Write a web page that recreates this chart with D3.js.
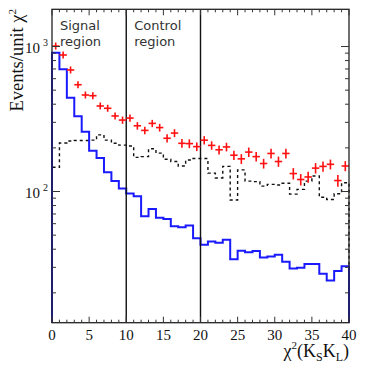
<!DOCTYPE html>
<html>
<head>
<meta charset="utf-8">
<script src="https://cdn.jsdelivr.net/npm/d3@7"></script>
<style>
  body { margin: 0; background: #fff; }
  svg text { font-family: "Liberation Serif", "DejaVu Serif", serif; }
  .region-label { font-family: "DejaVu Sans", "Liberation Sans", sans-serif; font-size: 13px; fill: #333; }
</style>
</head>
<body>
<div id="chart"></div>
<script>
// chi2 bins, width 1, from 0 to 40
var binEdges = d3.range(0, 41);

// Signal MC (blue, solid)
var signalMC = [906, 697, 443, 330, 258, 191, 170, 136, 118, 105,
                97, 92.7, 67.4, 75.7, 65.9, 64.5, 57.6, 56.7, 58.3, 47.6,
                42.9, 45.2, 44.3, 46.5, 34.1, 39.0, 38.1, 38.9, 35.1, 35.6,
                36.6, 32.8, 29.4, 29.8, 31.6, 31.6, 27.1, 24.3, 28.3, 30.5];

// Background (black, dashed)
var background = [147, 216, 223, 225, 225, 226, 246, 226, 215, 209,
                  206, 172, 174, 197, 184, 167, 161, 150, 165, 169,
                  169, 134, 124, 149, 87.4, 141, 118, 117, 109, 112,
                  111, 114, 96, 103.5, 118, 128, 91.2, 88, 96.4, 115];

// Data (red crosses)
var dataVals = [1007, 874, 689, 545, 463, 458, 389, 375, 332, 311,
                321, 284, 264, 295, 276, 233, 253, 215, 214, 204,
                226, 208, 194, 203, 178, 168, 187, 174, 156, 183,
                161, 183, 133, 121, 126, 145, 149, 154, 119, 150];
var dataErr = [32, 30, 26, 23, 22, 21, 20, 19, 18, 18,
               18, 17, 16, 17, 17, 15, 16, 15, 15, 14,
               15, 14, 14, 14, 13, 13, 14, 13, 12, 14,
               13, 14, 12, 11, 11, 12, 12, 12, 11, 12];

var xTickLabels = [0, 5, 10, 15, 20, 25, 30, 35, 40];
var yMajor = [100, 1000];
var regionCuts = [10, 20];
var regionNames = [['Signal', 'region'], ['Control', 'region']];

var width = 374, height = 374;
var margin = {left: 52, right: 25, top: 9.3, bottom: 51.3};
var plotW = width - margin.left - margin.right;
var plotH = height - margin.top - margin.bottom;

var svg = d3.select('#chart').append('svg')
  .attr('width', width)
  .attr('height', height);

var g = svg.append('g')
  .attr('transform', 'translate(' + margin.left + ',' + margin.top + ')');

var x = d3.scaleLinear().domain([0, 40]).range([0, plotW]);
var y = d3.scaleLog().domain([12.45, 1806]).range([plotH, 0]);

// histogram outline path
function histPath(vals){
  var pts = [[0, y.range()[0]]];
  vals.forEach(function(v, i){
    pts.push([x(binEdges[i]), y(v)]);
    pts.push([x(binEdges[i + 1]), y(v)]);
  });
  pts.push([x(40), y.range()[0]]);
  return d3.line()(pts);
}

g.append('path')
  .attr('d', histPath(background))
  .attr('fill', 'none')
  .attr('stroke', '#111')
  .attr('stroke-width', 1.4)
  .attr('stroke-dasharray', '3,3');

g.append('path')
  .attr('d', histPath(signalMC))
  .attr('fill', 'none')
  .attr('stroke', '#1a1aff')
  .attr('stroke-width', 2);

// region separators
g.selectAll('.cut')
  .data(regionCuts)
  .enter()
  .append('line')
  .attr('x1', function(d){ return x(d); })
  .attr('x2', function(d){ return x(d); })
  .attr('y1', 0)
  .attr('y2', plotH)
  .attr('stroke', '#111')
  .attr('stroke-width', 1.4);

// data crosses
var pts = g.selectAll('.pt')
  .data(dataVals)
  .enter()
  .append('g')
  .attr('class', 'pt');

pts.append('line')
  .attr('x1', function(d, i){ return x(i + 0.5) - 3.7; })
  .attr('x2', function(d, i){ return x(i + 0.5) + 3.7; })
  .attr('y1', function(d){ return y(d); })
  .attr('y2', function(d){ return y(d); })
  .attr('stroke', '#ff1010')
  .attr('stroke-width', 1.6);

pts.append('line')
  .attr('x1', function(d, i){ return x(i + 0.5); })
  .attr('x2', function(d, i){ return x(i + 0.5); })
  .attr('y1', function(d, i){ return Math.min(y(d + dataErr[i]), y(d) - 3.5); })
  .attr('y2', function(d, i){ return Math.max(y(d - dataErr[i]), y(d) + 3.5); })
  .attr('stroke', '#ff1010')
  .attr('stroke-width', 1.6);

// frame
g.append('rect')
  .attr('x', 0).attr('y', 0)
  .attr('width', plotW).attr('height', plotH)
  .attr('fill', 'none')
  .attr('stroke', '#222')
  .attr('stroke-width', 1.3);

// x ticks (bottom and top, inside)
var xMinor = d3.range(0, 41);
g.selectAll('.xt')
  .data(xMinor)
  .enter()
  .append('line')
  .attr('x1', function(d){ return x(d); })
  .attr('x2', function(d){ return x(d); })
  .attr('y1', plotH)
  .attr('y2', function(d){ return plotH - (d % 5 === 0 ? 6 : 3); })
  .attr('stroke', '#333');
g.selectAll('.xtt')
  .data(xMinor)
  .enter()
  .append('line')
  .attr('x1', function(d){ return x(d); })
  .attr('x2', function(d){ return x(d); })
  .attr('y1', 0)
  .attr('y2', function(d){ return d % 5 === 0 ? 6 : 3; })
  .attr('stroke', '#333');

// y ticks (left and right, inside)
var yMinor = y.ticks().filter(function(d){ return yMajor.indexOf(d) < 0; });
var yAll = yMinor.concat(yMajor);
[0, plotW].forEach(function(x0){
  var dir = x0 === 0 ? 1 : -1;
  g.selectAll(null)
    .data(yAll)
    .enter()
    .append('line')
    .attr('x1', x0)
    .attr('x2', function(d){ return x0 + dir * (yMajor.indexOf(d) > -1 ? 8 : 4); })
    .attr('y1', function(d){ return y(d); })
    .attr('y2', function(d){ return y(d); })
    .attr('stroke', '#333');
});

// x tick labels
g.selectAll('.xl')
  .data(xTickLabels)
  .enter()
  .append('text')
  .attr('x', function(d){ return x(d); })
  .attr('y', plotH + 17)
  .attr('text-anchor', 'middle')
  .style('font-size', '15px')
  .style('fill', '#111')
  .text(function(d){ return d; });

// y tick labels 10^n
var yl = g.selectAll('.yl')
  .data(yMajor)
  .enter()
  .append('text')
  .attr('x', -4)
  .attr('y', function(d){ return y(d) + 6; })
  .attr('text-anchor', 'end')
  .style('font-size', '15px')
  .style('fill', '#111');
yl.append('tspan').text('10');
yl.append('tspan')
  .attr('dx', 3)
  .attr('dy', -7)
  .style('font-size', '10px')
  .text(function(d){ return Math.round(Math.log10(d)); });

// region labels
regionNames.forEach(function(lines, k){
  var x0 = k === 0 ? x(0) + 8 : x(regionCuts[0]) + 8;
  lines.forEach(function(t, j){
    g.append('text')
      .attr('class', 'region-label')
      .attr('x', x0)
      .attr('y', 20.5 + j * 16)
      .text(t);
  });
});

// axis titles
svg.append('text')
  .attr('transform', 'translate(23,9) rotate(-90)')
  .attr('text-anchor', 'end')
  .style('font-size', '18.5px')
  .style('fill', '#111')
  .html('Events/unit χ<tspan dy="-7" font-size="11px">2</tspan>');

var xt = svg.append('text')
  .attr('x', margin.left + plotW)
  .attr('y', 357)
  .attr('text-anchor', 'end')
  .style('font-size', '18px')
  .style('fill', '#111');
xt.append('tspan').text('χ');
xt.append('tspan').attr('dy', -8).style('font-size', '11px').text('2');
xt.append('tspan').attr('dy', 8).text('(K');
xt.append('tspan').attr('dy', 4).style('font-size', '12px').text('S');
xt.append('tspan').attr('dy', -4).text('K');
xt.append('tspan').attr('dy', 4).style('font-size', '12px').text('L');
xt.append('tspan').attr('dy', -4).text(')');
</script>
</body>
</html>
